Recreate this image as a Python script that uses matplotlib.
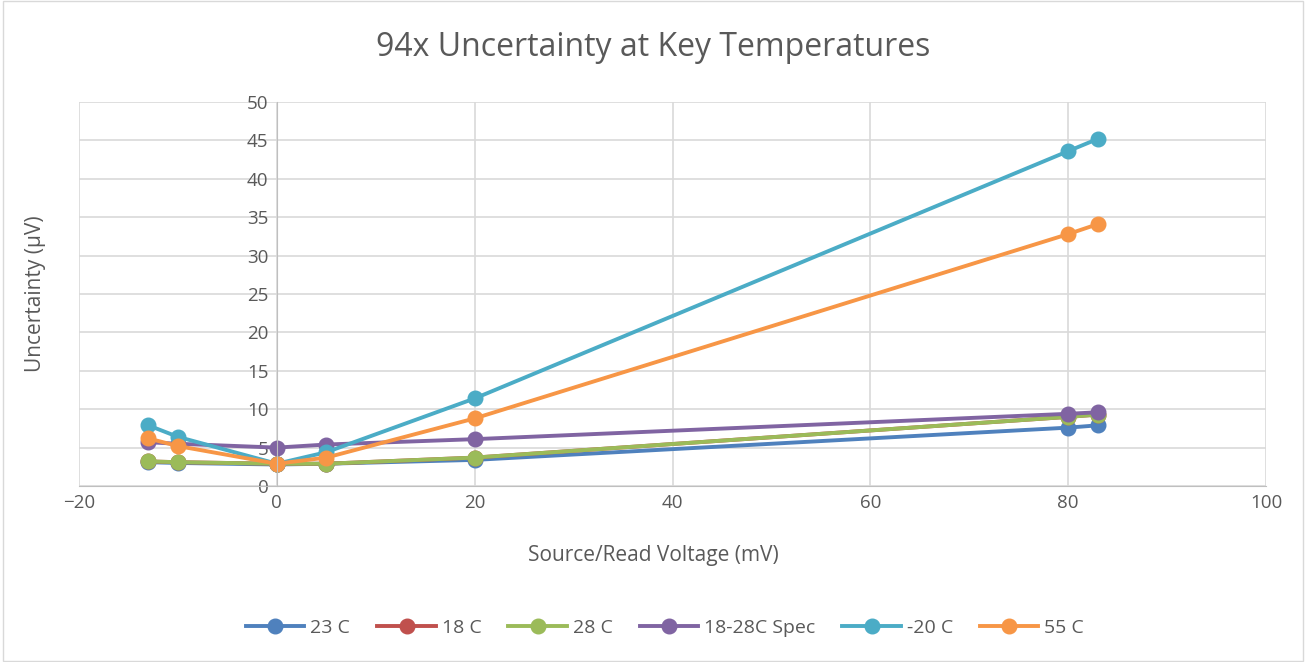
import numpy as np
import matplotlib.pyplot as plt

# source/read voltage (mV)
volts = [-13, -10, 0, 5, 20, 80, 83]

# uncertainty (uV) per temperature
u_23 = [3.1, 3.0, 2.8, 2.9, 3.4, 7.6, 7.9]
u_18 = [3.2, 3.1, 2.9, 2.9, 3.7, 9.0, 9.3]
u_28 = [3.2, 3.1, 2.9, 2.9, 3.7, 9.0, 9.3]
u_spec = [5.7, 5.5, 5.0, 5.4, 6.1, 9.4, 9.6]
u_m20 = [7.9, 6.4, 2.9, 4.4, 11.4, 43.6, 45.2]
u_55 = [6.2, 5.2, 2.9, 3.7, 8.8, 32.8, 34.1]

names = ['23 C', '18 C', '28 C', '18-28C Spec', '-20 C', '55 C']
series = [u_23, u_18, u_28, u_spec, u_m20, u_55]
colors = ['#4F81BD', '#C0504D', '#9BBB59', '#8064A2', '#4BACC6', '#F79646']

txt = '#595959'
plt.rcParams['font.family'] = ['Open Sans', 'DejaVu Sans']

fig = plt.figure(figsize=(13.06, 6.62), dpi=100)
ax = fig.add_axes([79 / 1306, 1 - 486 / 662, (1266 - 79) / 1306, (486 - 102) / 662])

for name, vals, c in zip(names, series, colors):
    ax.plot(volts, vals, color=c, lw=2.8, marker='o', ms=10.5, label=name)

ax.set_xlim(-20, 100)
ax.set_ylim(0, 50)
ax.set_xticks(np.arange(-20, 101, 20))
ax.set_yticks(np.arange(0, 51, 5))
ax.grid(True, color='#D9D9D9', lw=1.2)
ax.set_axisbelow(True)
for s in ['top', 'right']:
    ax.spines[s].set_visible(False)
ax.spines['left'].set_position(('data', 0))
ax.spines['bottom'].set_position(('data', 0))
ax.spines['left'].set_color('#BFBFBF')
ax.spines['bottom'].set_color('#BFBFBF')
ax.tick_params(length=0, labelsize=13.5, labelcolor=txt, pad=6)

fig.text(0.5, 1 - 47 / 662, '94x Uncertainty at Key Temperatures', fontsize=23,
         color=txt, ha='center', va='center')
fig.text(0.5, 1 - 555 / 662, 'Source/Read Voltage (mV)', fontsize=15,
         color=txt, ha='center', va='center')
fig.text(36 / 1306, 1 - 294 / 662, 'Uncertainty (µV)', rotation=90, fontsize=15,
         color=txt, ha='center', va='center')

leg = fig.legend(*ax.get_legend_handles_labels(), loc='center',
                 bbox_to_anchor=(665 / 1306, 1 - 628 / 662), ncol=6, frameon=False,
                 fontsize=14, handlelength=3, columnspacing=1.4, handletextpad=0.3)
for t in leg.get_texts():
    t.set_color(txt)

fig.patches.append(plt.Rectangle((0.002, 0.002), 0.996, 0.996, transform=fig.transFigure,
                                 fill=False, edgecolor='#D9D9D9', lw=1))

fig.savefig('out.png', dpi=100)
